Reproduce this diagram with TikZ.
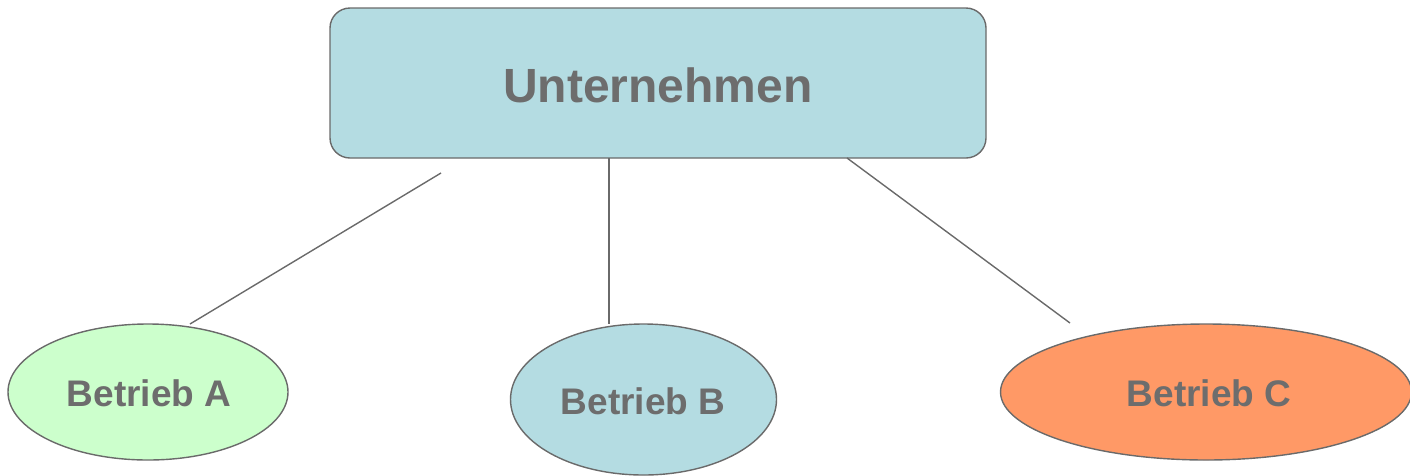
\documentclass[tikz,border=0pt]{standalone}
\usepackage{fontspec}
\setmainfont{Liberation Sans}
\usetikzlibrary{shapes.geometric}
\definecolor{txtgray}{HTML}{6D6D6D}
\definecolor{linegray}{HTML}{6A6A6A}
\definecolor{boxblue}{HTML}{B4DCE2}
\definecolor{agreen}{HTML}{CCFFCC}
\definecolor{corange}{HTML}{FF9966}
\tikzset{
  topbox/.style={draw=linegray, line width=1.4pt, fill=boxblue, rounded corners=20pt,
    minimum width=656pt, minimum height=150pt, inner sep=0pt},
  unit/.style={ellipse, draw=linegray, line width=1.4pt, inner sep=0pt},
  bigtxt/.style={text=txtgray, font=\fontsize{48}{57}\selectfont\bfseries},
  smalltxt/.style={text=txtgray, font=\fontsize{37}{44}\selectfont\bfseries},
  conn/.style={draw=linegray, line width=1.4pt}
}
\begin{document}
\begin{tikzpicture}[x=1pt,y=-1pt]
\useasboundingbox (0,0) rectangle (1410,475);
\node[topbox] (top) at (658,83) {};
\node[bigtxt] (ttop) at (658,85) {Unternehmen};
\node[unit, fill=agreen, minimum width=280pt, minimum height=136pt] (a) at (148,392) {};
\node[smalltxt] (ta) at (149,393) {Betrieb A};
\node[unit, fill=boxblue, minimum width=266pt, minimum height=151pt] (b) at (643.5,399.5) {};
\node[smalltxt] (tb) at (643,401) {Betrieb B};
\node[unit, fill=corange, minimum width=411pt, minimum height=136pt] (c) at (1206,392) {};
\node[smalltxt] (tc) at (1209,393) {Betrieb C};
\coordinate (a1) at (441,173);
\coordinate (a2) at (190,324);
\coordinate (b1) at (609,158);
\coordinate (b2) at (609,324);
\coordinate (c1) at (847,158);
\coordinate (c2) at (1070,323);
\draw[conn] (a1) -- (a2);
\draw[conn] (b1) -- (b2);
\draw[conn] (c1) -- (c2);
\end{tikzpicture}
\end{document}
